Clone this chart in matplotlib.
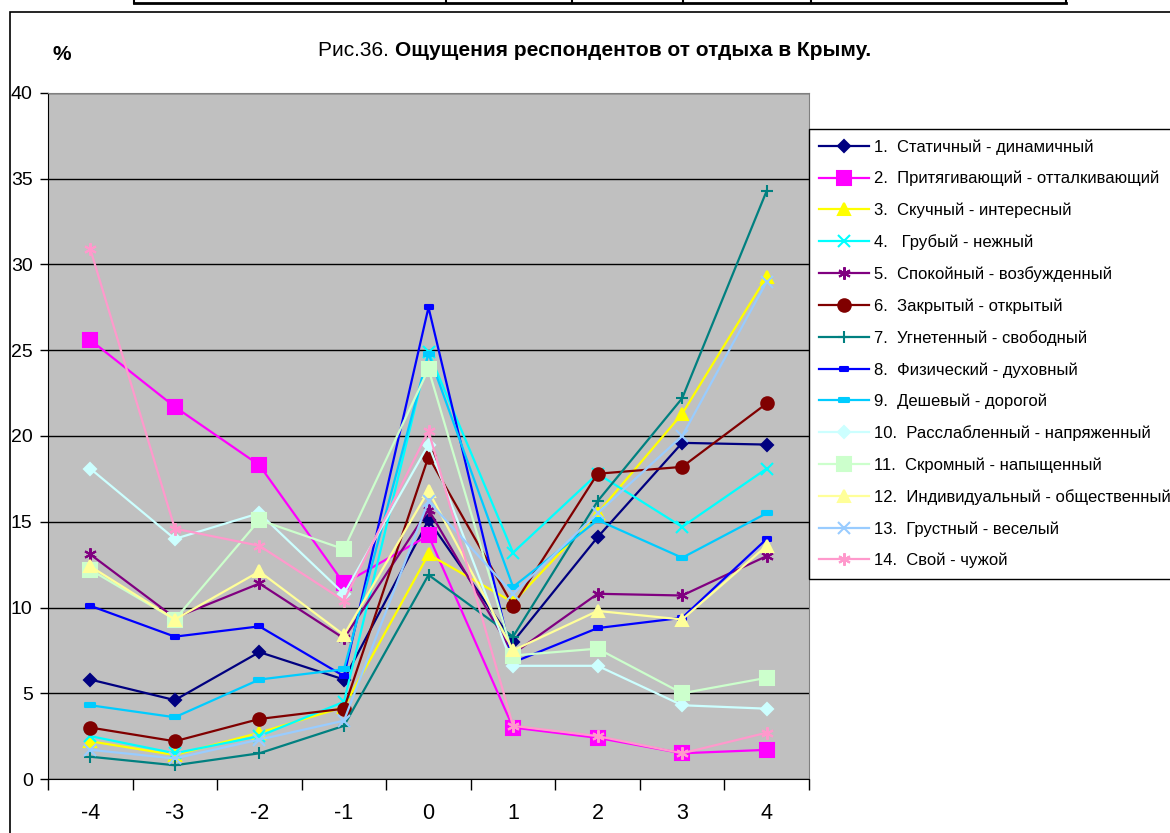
import numpy as np
import matplotlib.pyplot as plt
from matplotlib.path import Path
from matplotlib.patches import Rectangle
from matplotlib.lines import Line2D

plt.rcParams['font.family'] = ['Liberation Sans', 'DejaVu Sans']

# Scale points (-4 .. 4) and share of respondents, %
scale = ['-4', '-3', '-2', '-1', '0', '1', '2', '3', '4']

labels = [
    '1.  Статичный - динамичный',
    '2.  Притягивающий - отталкивающий',
    '3.  Скучный - интересный',
    '4.   Грубый - нежный',
    '5.  Спокойный - возбужденный',
    '6.  Закрытый - открытый',
    '7.  Угнетенный - свободный',
    '8.  Физический - духовный',
    '9.  Дешевый - дорогой',
    '10.  Расслабленный - напряженный',
    '11.  Скромный - напыщенный',
    '12.  Индивидуальный - общественный',
    '13.  Грустный - веселый',
    '14.  Свой - чужой',
]

s1 = [5.8, 4.6, 7.4, 5.8, 15.1, 8.0, 14.1, 19.6, 19.5]
s2 = [25.6, 21.7, 18.3, 11.4, 14.2, 3.0, 2.4, 1.5, 1.7]
s3 = [2.2, 1.4, 2.7, 4.2, 13.1, 10.3, 15.5, 21.3, 29.3]
s4 = [2.5, 1.5, 2.5, 4.5, 24.9, 13.2, 17.8, 14.7, 18.1]
s5 = [13.1, 9.4, 11.4, 8.2, 15.7, 7.3, 10.8, 10.7, 13.0]
s6 = [3.0, 2.2, 3.5, 4.1, 18.8, 10.1, 17.8, 18.2, 21.9]
s7 = [1.3, 0.8, 1.5, 3.1, 11.9, 8.3, 16.2, 22.2, 34.3]
s8 = [10.1, 8.3, 8.9, 6.0, 27.5, 6.8, 8.8, 9.4, 14.0]
s9 = [4.3, 3.6, 5.8, 6.4, 24.8, 11.2, 15.1, 12.9, 15.5]
s10 = [18.1, 14.0, 15.5, 10.8, 19.5, 6.6, 6.6, 4.3, 4.1]
s11 = [12.2, 9.3, 15.1, 13.4, 23.9, 7.2, 7.6, 5.0, 5.9]
s12 = [12.4, 9.3, 12.1, 8.4, 16.8, 7.5, 9.8, 9.3, 13.6]
s13 = [1.7, 1.2, 2.3, 3.4, 16.2, 10.8, 15.5, 20.0, 29.0]
s14 = [30.9, 14.6, 13.6, 10.4, 20.3, 3.1, 2.5, 1.5, 2.7]

series = [s1, s2, s3, s4, s5, s6, s7, s8, s9, s10, s11, s12, s13, s14]

colors = ['#000080', '#FF00FF', '#FFFF00', '#00FFFF', '#800080', '#800000',
          '#008080', '#0000FF', '#00CCFF', '#CCFFFF', '#CCFFCC', '#FFFF99',
          '#99CCFF', '#FF99CC']

# wide flat rectangle ("dash" marker) and 6-armed asterisk
dash = Path([(-1, -0.45), (1, -0.45), (1, 0.45), (-1, 0.45), (-1, -0.45)],
            [Path.MOVETO, Path.LINETO, Path.LINETO, Path.LINETO, Path.CLOSEPOLY])
aster = (6, 2, 0)

markers = ['D', 's', '^', 'x', aster, 'o', '+', dash, dash, 'D', 's', '^', 'x', aster]
msizes = [6.5, 9.5, 9, 9, 9, 9, 9, 5.5, 7.5, 6.5, 9.5, 9, 9, 9]

W, H = 1170, 833
fig = plt.figure(figsize=(W / 100, H / 100), dpi=100)

# outer chart frame and the table edge above it
fig.add_artist(Rectangle((10 / W, -0.1), 1.2, (H - 12) / H + 0.1, transform=fig.transFigure,
                         fill=False, edgecolor='black', linewidth=1.2))
fig.add_artist(Line2D([134 / W, 1066 / W], [1 - 3 / H, 1 - 3 / H], transform=fig.transFigure,
                      color='black', linewidth=2))
for xv in [134, 446, 572, 683, 811, 1066]:
    fig.add_artist(Line2D([xv / W, xv / W], [1 - 3 / H, 1.01], transform=fig.transFigure,
                          color='black', linewidth=1.5))

ax = fig.add_axes([48 / W, 1 - 779 / H, (809 - 48) / W, (779 - 93) / H])
ax.set_facecolor('#C0C0C0')

x = np.arange(len(scale))
for i, vals in enumerate(series):
    ax.plot(x, vals, color=colors[i], linewidth=1.6, marker=markers[i],
            markersize=msizes[i], markerfacecolor=colors[i], markeredgecolor=colors[i],
            markeredgewidth=1.5, label=labels[i], zorder=3 + i, clip_on=False)

ax.set_xlim(-0.5, 8.5)
ax.set_ylim(0, 40)
ax.set_yticks(np.arange(0, 41, 5))
ax.set_xticks(x)
ax.set_xticklabels(scale, fontsize=15.5)
ax.set_xticks(np.arange(-0.5, 9, 1), minor=True)
ax.tick_params(axis='x', which='major', length=0, pad=17)
ax.tick_params(axis='x', which='minor', length=8, width=1, direction='out')
ax.tick_params(axis='y', length=6, width=1, direction='out', labelsize=14, pad=5)

ax.grid(axis='y', color='black', linewidth=1)
ax.set_axisbelow(True)
for side in ['top', 'right']:
    ax.spines[side].set_color('#808080')
for side in ['left', 'bottom']:
    ax.spines[side].set_color('black')

leg = ax.legend(loc='upper left', bbox_to_anchor=(809 / W, 1 - 129 / H),
                bbox_transform=fig.transFigure, fontsize=12, frameon=True,
                fancybox=False, edgecolor='black', framealpha=1, borderaxespad=0,
                handlelength=3.0, handletextpad=0.3, labelspacing=0.97, borderpad=0.62)
leg.get_frame().set_linewidth(1)

# title: plain figure number followed by bold caption
t1 = fig.text(318 / W, 1 - 50 / H, 'Рис.36. ', fontsize=15, va='center', ha='left')
fig.canvas.draw()
bb = t1.get_window_extent()
fig.text(bb.x1 / W, 1 - 50 / H, 'Ощущения респондентов от отдыха в Крыму.',
         fontsize=15, fontweight='bold', va='center', ha='left')
fig.text(62 / W, 1 - 55 / H, '%', fontsize=15, fontweight='bold', va='center', ha='center')

fig.savefig('out.png', dpi=100)
